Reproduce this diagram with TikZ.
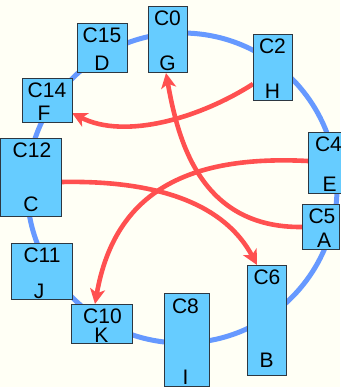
\documentclass[tikz,border=0pt]{standalone}
\usepackage{fontspec}
\setmainfont{Liberation Sans}
\usetikzlibrary{arrows.meta}

\definecolor{paper}{RGB}{255,255,245}
\definecolor{ringblue}{RGB}{102,153,255}
\definecolor{linkred}{RGB}{255,80,80}
\definecolor{cellfill}{RGB}{102,204,255}
\definecolor{cellline}{RGB}{45,55,65}

\tikzset{
  cell/.style={draw=cellline, line width=1pt, fill=cellfill, inner sep=0pt, rectangle},
  txt/.style={anchor=base, inner sep=0pt, font=\fontsize{21pt}{24pt}\selectfont},
  ringline/.style={draw=ringblue, line width=5pt},
  link/.style={draw=linkred, line width=4.6pt,
    -{Stealth[length=15pt, width=15pt, inset=4pt]}},
}

\begin{document}
\begin{tikzpicture}[x=1pt, y=-1pt]
  % canvas
  \fill[paper] (0,0) rectangle (340,387);
  \useasboundingbox (0,0) rectangle (340,387);

  % the ring
  \draw[ringline] (182,188) circle[radius=155];

  % anchor points of the cells (positions only, boxes drawn later)
  \coordinate (c0)  at (167.5,40);
  \coordinate (c2)  at (272.5,68);
  \coordinate (c4)  at (328.5,163);
  \coordinate (c5)  at (320.5,226.5);
  \coordinate (c6)  at (266.5,320);
  \coordinate (c10) at (101.5,323.5);
  \coordinate (c12) at (30.5,177.5);
  \coordinate (c14) at (47,101);

  % link ends on the cell borders
  \coordinate (l1s) at (253,84);   \coordinate (l1e) at (72,113);
  \coordinate (l2s) at (302,227);  \coordinate (l2e) at (166,73);
  \coordinate (l3s) at (61,182);   \coordinate (l3e) at (257,265);
  \coordinate (l4s) at (308,161);  \coordinate (l4e) at (95,304);

  % links between cells (under the boxes)
  \draw[link] (l1s) .. controls (200,118) and (125,140) .. (l1e);
  \draw[link] (l2s) .. controls (200,228) and (178,140) .. (l2e);
  \draw[link] (l3s) .. controls (160,180) and (225,205) .. (l3e);
  \draw[link] (l4s) .. controls (190,155) and (115,190) .. (l4e);

  % cells (boxes)
  \node[cell, minimum width=39pt, minimum height=66pt]  (b0)  at (c0)  {};
  \node[cell, minimum width=39pt, minimum height=66pt]  (b2)  at (c2)  {};
  \node[cell, minimum width=41pt, minimum height=60pt]  (b4)  at (c4)  {};
  \node[cell, minimum width=37pt, minimum height=45pt]  (b5)  at (c5)  {};
  \node[cell, minimum width=39pt, minimum height=110pt] (b6)  at (c6)  {};
  \node[cell, minimum width=45pt, minimum height=93pt]  (b8)  at (186.5,339.5) {};
  \node[cell, minimum width=61pt, minimum height=39pt]  (b10) at (c10) {};
  \node[cell, minimum width=61pt, minimum height=56pt]  (b11) at (41.5,271) {};
  \node[cell, minimum width=61pt, minimum height=77pt]  (b12) at (c12) {};
  \node[cell, minimum width=50pt, minimum height=44pt]  (b14) at (c14) {};
  \node[cell, minimum width=50pt, minimum height=49pt]  (b15) at (102,48.5) {};

  % labels: name on top, key at the bottom
  \node[txt] (t0)  at (167.5,25.5) {C0};   \node[txt] (k0)  at (167.5,71)  {G};
  \node[txt] (t2)  at (272.5,54)   {C2};   \node[txt] (k2)  at (272.5,99)  {H};
  \node[txt] (t4)  at (328.5,152)  {C4};   \node[txt] (k4)  at (329.5,191) {E};
  \node[txt] (t5)  at (322,223)    {C5};   \node[txt] (k5)  at (324,247)   {A};
  \node[txt] (t6)  at (267,284)    {C6};   \node[txt] (k6)  at (266.5,367) {B};
  \node[txt] (t8)  at (185.5,313)  {C8};   \node[txt] (k8)  at (185.5,384) {I};
  \node[txt] (t10) at (102.5,323)  {C10};  \node[txt] (k10) at (101.5,342) {K};
  \node[txt] (t11) at (42,262)     {C11};  \node[txt] (k11) at (39,298)    {J};
  \node[txt] (t12) at (32,158)     {C12};  \node[txt] (k12) at (31,211)    {C};
  \node[txt] (t14) at (47,98)      {C14};  \node[txt] (k14) at (44,121)    {F};
  \node[txt] (t15) at (102,43)     {C15};  \node[txt] (k15) at (102,71)    {D};
\end{tikzpicture}
\end{document}
